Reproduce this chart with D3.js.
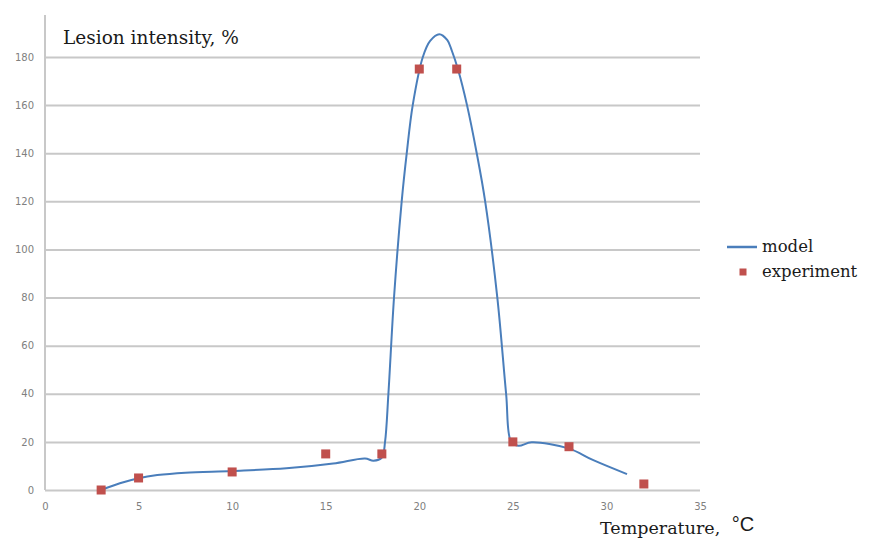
<!DOCTYPE html>
<html>
<head>
<meta charset="utf-8">
<script src="https://cdn.jsdelivr.net/npm/d3@7"></script>
<style>
  html, body { margin: 0; padding: 0; background: #ffffff; }
  svg { display: block; }
</style>
</head>
<body>
<svg id="chart" width="869" height="538"></svg>
<script>
// ---- data ----
const xTicks = [0, 5, 10, 15, 20, 25, 30, 35];
const yTicks = [0, 20, 40, 60, 80, 100, 120, 140, 160, 180];

const expT = [3, 5, 10, 15, 18, 20, 22, 25, 28, 32];
const expV = [0, 5, 7.5, 15, 15, 175, 175, 20, 18, 2.5];

const modelT = [3, 4, 5, 6, 7.5, 10, 12.9, 15.4, 17.1, 17.55, 18.0, 18.17, 18.35, 18.65,
                19.06, 19.33, 19.65, 20.19, 20.58, 21.07, 21.5, 21.74, 22.09, 22.55, 23.07,
                23.52, 24.17, 24.64, 24.91, 25.3, 26.0, 27.97, 29.3, 31.1];
const modelV = [0, 2.8, 4.9, 6.2, 7.2, 7.9, 9, 11, 13.1, 12.2, 13.5, 20, 40, 80,
                120, 140, 160, 180, 186.7, 189.5, 187, 182.6, 174.3, 160, 140,
                120, 80, 40, 20, 18.4, 19.8, 17.3, 12.4, 6.6];

const seriesNames = ["model", "experiment"];
const yTitle = "Lesion intensity, %";
const xTitle = "Temperature, ";
const xUnit = "°C";

// ---- drawing ----
const svg = d3.select("#chart");
const x = d3.scaleLinear().domain([0, 35]).range([45, 700]);
const y = d3.scaleLinear().domain([0, 180]).range([490, 57]);

const gridColor = "#c8c8c8";
const lineColor = "#4a7ebb";
const markColor = "#c0504d";
const serif = "'DejaVu Serif', serif";

// horizontal gridlines + y tick labels
const yAxis = svg.append("g")
  .attr("transform", `translate(${x(0)},0)`)
  .call(d3.axisLeft(y).tickValues(yTicks).tickSize(-(x(35) - x(0))).tickPadding(11).tickFormat(d3.format("d")));
yAxis.select(".domain").remove();
yAxis.selectAll(".tick line").attr("stroke", gridColor).attr("stroke-width", 2);
yAxis.selectAll(".tick text")
  .attr("fill", "#808080").attr("font-family", "'DejaVu Sans', sans-serif").attr("font-size", 10);

// vertical axis line
svg.append("line")
  .attr("x1", x(0)).attr("x2", x(0))
  .attr("y1", 15).attr("y2", y(0))
  .attr("stroke", gridColor).attr("stroke-width", 2);

// x tick labels
const xAxis = svg.append("g")
  .attr("transform", `translate(0,${y(0)})`)
  .call(d3.axisBottom(x).tickValues(xTicks).tickSize(0).tickPadding(13).tickFormat(d3.format("d")));
xAxis.select(".domain").remove();
xAxis.selectAll(".tick text")
  .attr("fill", "#808080").attr("font-family", "'DejaVu Sans', sans-serif").attr("font-size", 10);

// model line
const modelData = modelT.map((t, i) => [t, modelV[i]]);
const line = d3.line().x(d => x(d[0])).y(d => y(d[1])).curve(d3.curveCatmullRom.alpha(0.5));
svg.append("path")
  .datum(modelData)
  .attr("d", line)
  .attr("fill", "none")
  .attr("stroke", lineColor)
  .attr("stroke-width", 2);

// experiment markers
const expData = expT.map((t, i) => [t, expV[i]]);
const ms = 9;
svg.append("g").selectAll("rect")
  .data(expData)
  .join("rect")
  .attr("x", d => x(d[0]) - ms / 2)
  .attr("y", d => y(d[1]) - ms / 2)
  .attr("width", ms).attr("height", ms)
  .attr("fill", markColor);

// titles
svg.append("text")
  .attr("x", 63).attr("y", 44)
  .attr("font-family", serif).attr("font-size", 18.5).attr("fill", "#1a1a1a")
  .text(yTitle);

const xt = svg.append("text")
  .attr("x", 600).attr("y", 534)
  .attr("font-family", serif).attr("font-size", 17.5).attr("fill", "#1a1a1a");
xt.append("tspan").text(xTitle);
xt.append("tspan")
  .attr("font-family", "'Liberation Sans', 'DejaVu Sans', sans-serif")
  .attr("font-size", 20).attr("dy", -3).attr("dx", 6)
  .text(xUnit);

// legend
const lg = svg.append("g");
lg.append("line")
  .attr("x1", 727).attr("x2", 757).attr("y1", 247).attr("y2", 247)
  .attr("stroke", lineColor).attr("stroke-width", 2.5);
lg.append("text")
  .attr("x", 762).attr("y", 252)
  .attr("font-family", serif).attr("font-size", 16.5).attr("fill", "#1a1a1a")
  .text(seriesNames[0]);
lg.append("rect")
  .attr("x", 743 - 3.5).attr("y", 272 - 3.5).attr("width", 7).attr("height", 7)
  .attr("fill", markColor);
lg.append("text")
  .attr("x", 762).attr("y", 277)
  .attr("font-family", serif).attr("font-size", 16.5).attr("fill", "#1a1a1a")
  .text(seriesNames[1]);
</script>
</body>
</html>
